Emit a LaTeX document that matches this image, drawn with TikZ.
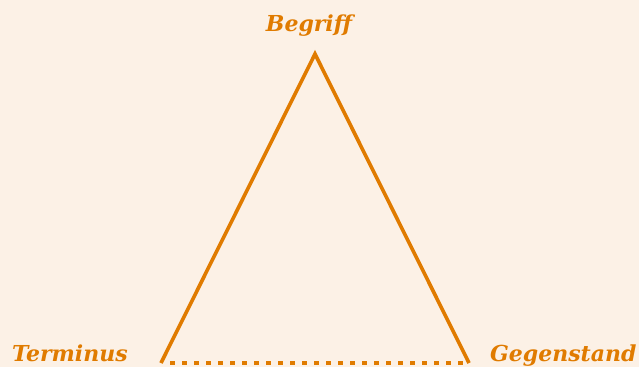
\documentclass[tikz,border=0pt]{standalone}
\usepackage{fontspec}
\newfontfamily\labelfont{DejaVu Serif}
\definecolor{bgcol}{HTML}{FCF1E6}
\definecolor{orng}{HTML}{E07B00}
\begin{document}
\begin{tikzpicture}[x=1pt,y=1pt,
  lbl/.style={inner sep=0pt, text=orng, font=\labelfont\bfseries\itshape\fontsize{22}{22}\selectfont},
  side/.style={draw=orng, line width=3.6pt, line cap=butt, line join=miter},
  dots/.style={draw=orng, line width=4.5pt, dash pattern=on 5pt off 7pt}]
\fill[bgcol] (0,0) rectangle (639,367);
\useasboundingbox (0,0) rectangle (639,367);
\coordinate (A) at (315,313);
\coordinate (L) at (161,4);
\coordinate (R) at (469,4);
\draw[side] (L) -- (A) -- (R);
\draw[dots] ([xshift=9pt]L) -- ([xshift=-3pt]R);
\node[lbl, anchor=base] (begriff) at (309,335) {Begriff};
\node[lbl, anchor=base west] (terminus) at (12,6) {Terminus};
\node[lbl, anchor=base west] (gegenstand) at (490,6) {Gegenstand};
\end{tikzpicture}
\end{document}
